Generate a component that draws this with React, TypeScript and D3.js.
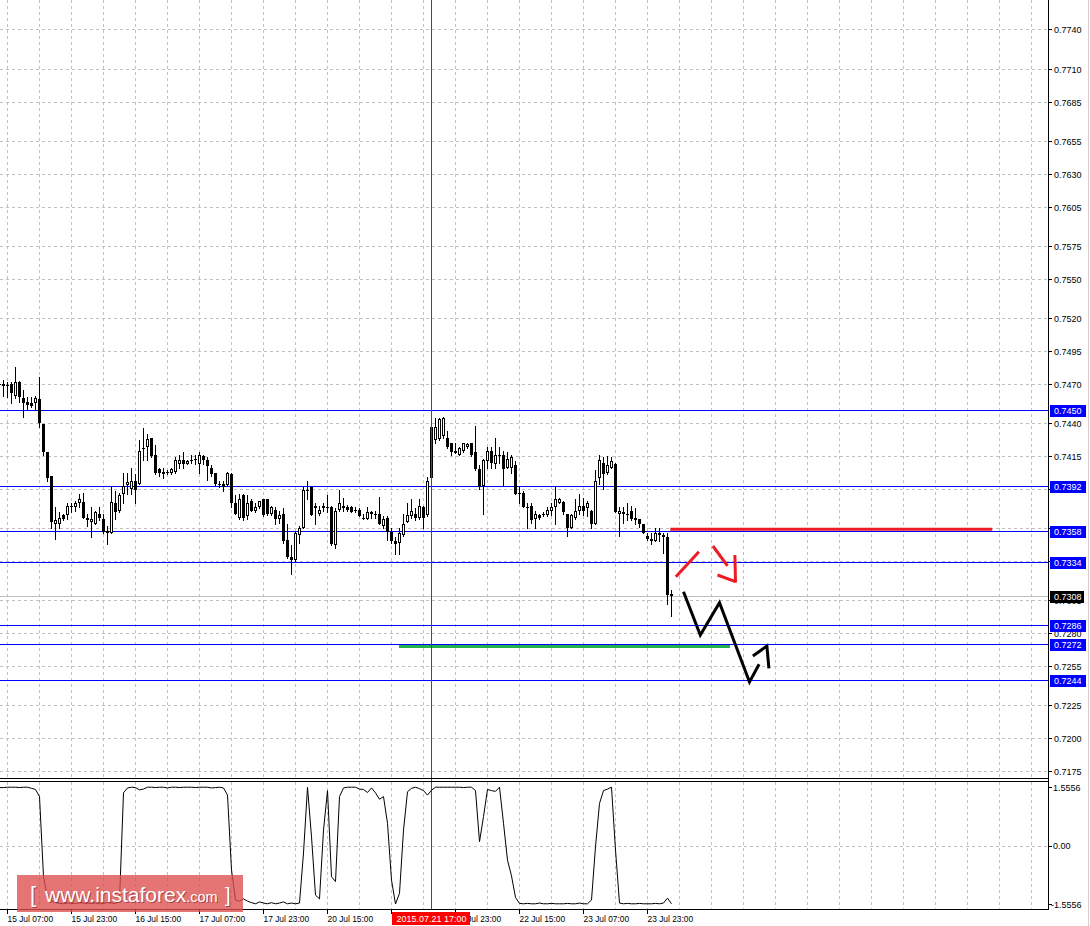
import * as d3 from 'd3';
import React from 'react';

// H1 bars, first one is 15 Jul 05:00 (partly cut off), last one 24 Jul 05:00
const open = [
  0.7469, 0.7468, 0.7468, 0.7470, 0.7461, 0.7471, 0.7459, 0.7456, 0.7455, 0.7455,
  0.7458, 0.7439, 0.7418, 0.7400, 0.7363, 0.7363, 0.7370, 0.7370, 0.7376, 0.7376,
  0.7379, 0.7380, 0.7368, 0.7365, 0.7363, 0.7371, 0.7367, 0.7358, 0.7356, 0.7379,
  0.7373, 0.7386, 0.7393, 0.7390, 0.7396, 0.7394, 0.7420, 0.7422, 0.7429, 0.7416,
  0.7405, 0.7403, 0.7403, 0.7402, 0.7403, 0.7409, 0.7412, 0.7409, 0.7412, 0.7413,
  0.7409, 0.7415, 0.7412, 0.7406, 0.7402, 0.7394, 0.7394, 0.7393, 0.7401, 0.7379,
  0.7368, 0.7385, 0.7369, 0.7381, 0.7373, 0.7376, 0.7382, 0.7382, 0.7371, 0.7374,
  0.7367, 0.7371, 0.7351, 0.7338, 0.7336, 0.7355, 0.7360, 0.7389, 0.7391, 0.7377,
  0.7371, 0.7375, 0.7376, 0.7376, 0.7347, 0.7374, 0.7377, 0.7376, 0.7376, 0.7374,
  0.7374, 0.7368, 0.7367, 0.7371, 0.7371, 0.7371, 0.7362, 0.7368, 0.7357, 0.7350,
  0.7349, 0.7355, 0.7365, 0.7369, 0.7371, 0.7368, 0.7376, 0.7370, 0.7398, 0.7427,
  0.7428, 0.7430, 0.7429, 0.7425, 0.7419, 0.7416, 0.7419, 0.7422, 0.7425, 0.7418,
  0.7405, 0.7392, 0.7411, 0.7419, 0.7409, 0.7416, 0.7416, 0.7406, 0.7406, 0.7408,
  0.7387, 0.7387, 0.7376, 0.7377, 0.7367, 0.7370, 0.7370, 0.7370, 0.7373, 0.7376,
  0.7379, 0.7380, 0.7371, 0.7360, 0.7368, 0.7373, 0.7377, 0.7375, 0.7373, 0.7363,
  0.7398, 0.7410, 0.7402, 0.7406, 0.7409, 0.7371, 0.7372, 0.7371, 0.7373, 0.7366,
  0.7367, 0.7363, 0.7354, 0.7352, 0.7350, 0.7355, 0.7355, 0.7353, 0.7310,
];
const high = [
  0.7473, 0.7473, 0.7471, 0.7471, 0.7483, 0.7472, 0.7465, 0.7460, 0.7460, 0.7461,
  0.7475, 0.7439, 0.7418, 0.7400, 0.7376, 0.7372, 0.7371, 0.7379, 0.7379, 0.7381,
  0.7386, 0.7387, 0.7371, 0.7376, 0.7373, 0.7376, 0.7371, 0.7362, 0.7392, 0.7388,
  0.7387, 0.7402, 0.7402, 0.7406, 0.7401, 0.7427, 0.7436, 0.7432, 0.7429, 0.7423,
  0.7406, 0.7406, 0.7404, 0.7406, 0.7414, 0.7416, 0.7418, 0.7412, 0.7416, 0.7416,
  0.7418, 0.7416, 0.7414, 0.7408, 0.7402, 0.7396, 0.7396, 0.7403, 0.7402, 0.7385,
  0.7386, 0.7386, 0.7385, 0.7382, 0.7379, 0.7381, 0.7382, 0.7382, 0.7377, 0.7376,
  0.7373, 0.7375, 0.7363, 0.7347, 0.7358, 0.7362, 0.7391, 0.7396, 0.7392, 0.7379,
  0.7377, 0.7379, 0.7385, 0.7377, 0.7375, 0.7389, 0.7383, 0.7378, 0.7377, 0.7376,
  0.7375, 0.7371, 0.7376, 0.7373, 0.7373, 0.7384, 0.7369, 0.7369, 0.7360, 0.7353,
  0.7360, 0.7371, 0.7379, 0.7382, 0.7375, 0.7382, 0.7377, 0.7399, 0.7437, 0.7444,
  0.7444, 0.7445, 0.7434, 0.7425, 0.7425, 0.7422, 0.7425, 0.7425, 0.7425, 0.7438,
  0.7408, 0.7413, 0.7422, 0.7422, 0.7429, 0.7422, 0.7419, 0.7418, 0.7416, 0.7411,
  0.7391, 0.7388, 0.7379, 0.7379, 0.7373, 0.7371, 0.7372, 0.7376, 0.7379, 0.7392,
  0.7383, 0.7381, 0.7371, 0.7371, 0.7382, 0.7386, 0.7383, 0.7381, 0.7374, 0.7404,
  0.7416, 0.7414, 0.7415, 0.7414, 0.7410, 0.7376, 0.7376, 0.7379, 0.7377, 0.7375,
  0.7367, 0.7363, 0.7356, 0.7356, 0.7360, 0.7360, 0.7356, 0.7356, 0.7313,
];
const low = [
  0.7465, 0.7461, 0.7460, 0.7455, 0.7459, 0.7456, 0.7445, 0.7450, 0.7452, 0.7450,
  0.7437, 0.7416, 0.7396, 0.7360, 0.7352, 0.7360, 0.7366, 0.7367, 0.7372, 0.7373,
  0.7376, 0.7368, 0.7362, 0.7353, 0.7363, 0.7366, 0.7356, 0.7348, 0.7356, 0.7367,
  0.7372, 0.7379, 0.7386, 0.7386, 0.7379, 0.7394, 0.7412, 0.7412, 0.7414, 0.7401,
  0.7400, 0.7398, 0.7401, 0.7401, 0.7402, 0.7406, 0.7406, 0.7409, 0.7410, 0.7409,
  0.7402, 0.7409, 0.7397, 0.7400, 0.7393, 0.7391, 0.7388, 0.7392, 0.7376, 0.7371,
  0.7367, 0.7366, 0.7367, 0.7373, 0.7372, 0.7375, 0.7369, 0.7370, 0.7370, 0.7363,
  0.7364, 0.7349, 0.7337, 0.7325, 0.7335, 0.7349, 0.7360, 0.7382, 0.7370, 0.7363,
  0.7370, 0.7373, 0.7372, 0.7347, 0.7345, 0.7373, 0.7373, 0.7373, 0.7372, 0.7372,
  0.7369, 0.7367, 0.7367, 0.7368, 0.7368, 0.7363, 0.7360, 0.7351, 0.7349, 0.7340,
  0.7340, 0.7354, 0.7365, 0.7368, 0.7366, 0.7367, 0.7360, 0.7369, 0.7397, 0.7425,
  0.7427, 0.7429, 0.7421, 0.7416, 0.7417, 0.7416, 0.7418, 0.7421, 0.7415, 0.7404,
  0.7390, 0.7371, 0.7406, 0.7406, 0.7406, 0.7410, 0.7392, 0.7406, 0.7402, 0.7386,
  0.7379, 0.7376, 0.7360, 0.7364, 0.7360, 0.7367, 0.7369, 0.7369, 0.7370, 0.7363,
  0.7379, 0.7371, 0.7354, 0.7360, 0.7367, 0.7371, 0.7370, 0.7369, 0.7360, 0.7363,
  0.7394, 0.7390, 0.7401, 0.7406, 0.7372, 0.7354, 0.7364, 0.7366, 0.7366, 0.7363,
  0.7361, 0.7356, 0.7351, 0.7348, 0.7350, 0.7350, 0.7341, 0.7302, 0.7293,
];
const close = [
  0.7470, 0.7470, 0.7469, 0.7463, 0.7471, 0.7460, 0.7455, 0.7454, 0.7453, 0.7459,
  0.7440, 0.7418, 0.7398, 0.7365, 0.7366, 0.7368, 0.7367, 0.7377, 0.7377, 0.7379,
  0.7382, 0.7368, 0.7366, 0.7367, 0.7372, 0.7368, 0.7357, 0.7356, 0.7380, 0.7372,
  0.7385, 0.7392, 0.7395, 0.7396, 0.7389, 0.7419, 0.7421, 0.7428, 0.7415, 0.7402,
  0.7402, 0.7401, 0.7402, 0.7405, 0.7412, 0.7412, 0.7409, 0.7411, 0.7412, 0.7412,
  0.7416, 0.7412, 0.7407, 0.7401, 0.7394, 0.7393, 0.7391, 0.7402, 0.7379, 0.7371,
  0.7382, 0.7368, 0.7379, 0.7373, 0.7376, 0.7381, 0.7370, 0.7371, 0.7376, 0.7367,
  0.7370, 0.7350, 0.7338, 0.7336, 0.7356, 0.7360, 0.7389, 0.7388, 0.7370, 0.7375,
  0.7374, 0.7377, 0.7375, 0.7348, 0.7373, 0.7379, 0.7375, 0.7374, 0.7372, 0.7373,
  0.7369, 0.7367, 0.7372, 0.7372, 0.7370, 0.7363, 0.7367, 0.7357, 0.7350, 0.7348,
  0.7356, 0.7363, 0.7370, 0.7373, 0.7368, 0.7377, 0.7368, 0.7396, 0.7437, 0.7437,
  0.7443, 0.7444, 0.7422, 0.7418, 0.7417, 0.7421, 0.7425, 0.7424, 0.7416, 0.7405,
  0.7391, 0.7412, 0.7419, 0.7410, 0.7416, 0.7415, 0.7405, 0.7413, 0.7414, 0.7386,
  0.7386, 0.7376, 0.7375, 0.7366, 0.7371, 0.7368, 0.7371, 0.7374, 0.7376, 0.7382,
  0.7382, 0.7372, 0.7360, 0.7370, 0.7373, 0.7377, 0.7373, 0.7379, 0.7363, 0.7396,
  0.7412, 0.7401, 0.7408, 0.7411, 0.7372, 0.7373, 0.7371, 0.7370, 0.7367, 0.7368,
  0.7363, 0.7356, 0.7352, 0.7350, 0.7356, 0.7356, 0.7353, 0.7309, 0.7308,
];

// oscillator in the lower window, one value per bar
const osc = [
  1.54, 1.54, 1.55, 1.55, 1.55, 1.54, 1.55, 1.55, 1.52, 1.49,
  1.30, -0.83, -1.40, -1.47, -1.52, -1.54, -1.55, -1.53, -1.54, -1.55,
  -1.52, -1.53, -1.55, -1.54, -1.53, -1.55, -1.54, -1.52, -1.53, -1.55,
  -1.45, 1.40, 1.53, 1.55, 1.54, 1.48, 1.50, 1.55, 1.55, 1.54,
  1.55, 1.55, 1.53, 1.55, 1.55, 1.54, 1.55, 1.55, 1.55, 1.54,
  1.55, 1.55, 1.55, 1.53, 1.54, 1.55, 1.53, 1.34, -0.65, -1.45,
  -1.48, -1.42, -1.48, -1.52, -1.55, -1.50, -1.53, -1.55, -1.52, -1.55,
  -1.53, -1.50, -1.55, -1.53, -1.55, -1.53, -0.20, 1.55, 0.23, -1.32,
  -1.42, 0.41, 1.46, -0.83, -0.96, 1.30, 1.53, 1.55, 1.55, 1.55,
  1.50, 1.49, 1.41, 1.53, 1.40, 1.23, 1.30, 0.59, -0.92, -1.5556,
  -1.27, 0.41, 1.43, 1.52, 1.55, 1.51, 1.46, 1.34, 1.47, 1.55,
  1.55, 1.55, 1.55, 1.55, 1.55, 1.55, 1.54, 1.55, 1.55, 1.46,
  0.10, 0.77, 1.49, 1.46, 1.44, 1.55, 0.59, -0.39, -0.81, -1.38,
  -1.54, -1.55, -1.54, -1.55, -1.55, -1.53, -1.55, -1.55, -1.54, -1.55,
  -1.55, -1.55, -1.54, -1.55, -1.55, -1.53, -1.55, -1.55, -1.45, -0.03,
  1.12, 1.46, 1.50, 1.55, -0.12, -1.53, -1.55, -1.54, -1.55, -1.55,
  -1.54, -1.55, -1.55, -1.55, -1.54, -1.55, -1.53, -1.40, -1.55,
];

const priceTicks = [
  0.774, 0.771, 0.7685, 0.7655, 0.763, 0.7605, 0.7575, 0.755, 0.752, 0.7495, 0.747,
  0.744, 0.7415, 0.739, 0.736, 0.7335, 0.7305, 0.728, 0.7255, 0.7225, 0.72, 0.7175,
];
const levels = [0.745, 0.7392, 0.7358, 0.7334, 0.7286, 0.7272, 0.7244];
const bid = 0.7308;
const oscTicks = [1.5556, 0, -1.5556];
const oscTickLabels = ['1.5556', '0.00', '-1.5556'];
const timeLabels = [
  '15 Jul 07:00', '15 Jul 23:00', '16 Jul 15:00', '17 Jul 07:00', '17 Jul 23:00', '20 Jul 15:00',
  '21 Jul 07:00', '21 Jul 23:00', '22 Jul 15:00', '23 Jul 07:00', '23 Jul 23:00',
];
const cursorBar = 108;
const cursorLabel = '2015.07.21 17:00';

// hand drawn objects: [bar, price]
const redLevel: [number, number][] = [[167.7, 0.73592], [248.2, 0.73592]];
const greenLevel: [number, number][] = [[99.9, 0.727], [182.7, 0.727]];
const redArrow: [number, number][][] = [
  [[169.1, 0.7323], [174.85, 0.73421]],
  [[178.35, 0.73464], [182, 0.73312]],
  [[183.85, 0.73395], [184, 0.73185]],
  [[179.5, 0.73243], [184, 0.73192]],
];
const zigzag: [number, number][] = [
  [171, 0.73116], [175.2, 0.72786], [180, 0.73032], [187.5, 0.72428], [189.9, 0.72563],
];
const zigzagHead: [number, number][] = [[188.35, 0.72626], [191.85, 0.72702], [192.35, 0.72532]];

const FONT = '"Liberation Sans", Arial, sans-serif';
const AXIS_X = 1048.5;
const MAIN_BOTTOM = 778.5;
const IND_TOP = 781.5;
const IND_BOTTOM = 909.5;

export default function App() {
  const x = d3.scaleLinear().domain([0, 1]).range([-0.5, 3.5]);
  const y = d3.scaleLinear().domain([0.7175, 0.774]).range([771, 29.3]);
  const yo = d3.scaleLinear().domain([-1.5556, 1.5556]).range([904, 787]);
  const py = (v: number) => Math.round(y(v)) + 0.5;

  const vGrid = d3.range(2, 259, 8);
  const line = d3.line<[number, number]>().x(d => x(d[0])).y(d => y(d[1]));
  const oscLine = d3
    .line<number>()
    .x((_, i) => x(i))
    .y(d => yo(d));

  const candles = open.map((o, i) => {
    const c = close[i];
    const cx = x(i);
    const top = Math.round(y(Math.max(o, c)));
    const bot = Math.round(y(Math.min(o, c)));
    const bull = c >= o;
    return (
      <g key={i}>
        <line x1={cx} x2={cx} y1={Math.round(y(high[i]))} y2={Math.round(y(low[i])) + 1} stroke="#000" />
        {bull && bot - top >= 2 ? (
          <rect x={cx - 1} y={top + 0.5} width={2} height={bot - top - 1} fill="#fff" stroke="#000" />
        ) : (
          <rect x={cx - 1.5} y={top} width={3} height={Math.max(bot - top, 1)} fill="#000" />
        )}
      </g>
    );
  });

  return (
    <svg
      width={1090}
      height={926}
      style={{ position: 'absolute', left: 0, top: 0, background: '#fff' }}
      fontFamily={FONT}
      shapeRendering="crispEdges"
    >
      <rect x={0} y={0} width={1090} height={926} fill="#fff" />

      {/* grid */}
      <g stroke="#c0c0c0" strokeDasharray="3,3">
        {priceTicks.map(t => (
          <line key={t} x1={0} x2={AXIS_X} y1={py(t)} y2={py(t)} />
        ))}
        <line x1={0} x2={AXIS_X} y1={Math.round(yo(0)) + 0.5} y2={Math.round(yo(0)) + 0.5} />
        {vGrid.map(b => (
          <g key={b}>
            <line x1={x(b)} x2={x(b)} y1={0} y2={MAIN_BOTTOM} />
            <line x1={x(b)} x2={x(b)} y1={IND_TOP} y2={IND_BOTTOM} />
          </g>
        ))}
      </g>

      {/* horizontal levels */}
      <line x1={0} x2={AXIS_X} y1={py(bid)} y2={py(bid)} stroke="#c0c0c0" />
      {levels.map(v => (
        <line key={v} x1={0} x2={AXIS_X} y1={py(v)} y2={py(v)} stroke="#0000ff" />
      ))}
      <path d={line(greenLevel) ?? ''} stroke="#22b14c" strokeWidth={3} fill="none" />

      {candles}

      {/* cursor line */}
      <line x1={x(cursorBar)} x2={x(cursorBar)} y1={0} y2={IND_BOTTOM} stroke="#ff0000" />

      {/* drawn objects */}
      <g shapeRendering="auto" fill="none" strokeWidth={3}>
        <path d={line(redLevel) ?? ''} stroke="#ed1c24" />
        {redArrow.map((s, i) => (
          <path key={i} d={line(s) ?? ''} stroke="#ed1c24" />
        ))}
        <path d={line(zigzag) ?? ''} stroke="#000" strokeLinejoin="miter" />
        <path d={line(zigzagHead) ?? ''} stroke="#000" />
      </g>

      {/* oscillator */}
      <path d={oscLine(osc) ?? ''} stroke="#000" fill="none" shapeRendering="auto" />

      {/* frames */}
      <g stroke="#000">
        <line x1={0} x2={AXIS_X} y1={MAIN_BOTTOM} y2={MAIN_BOTTOM} />
        <line x1={0} x2={AXIS_X} y1={IND_TOP} y2={IND_TOP} />
        <line x1={0} x2={AXIS_X} y1={IND_BOTTOM} y2={IND_BOTTOM} />
        <line x1={AXIS_X} x2={AXIS_X} y1={0} y2={IND_BOTTOM} />
      </g>
      <line x1={1088.5} x2={1088.5} y1={0} y2={926} stroke="#d0d0d0" />

      {/* price axis */}
      <g fontSize={9} fill="#000">
        {priceTicks.map(t => (
          <g key={t}>
            <line x1={AXIS_X} x2={1052} y1={py(t)} y2={py(t)} stroke="#000" />
            <text x={1054} y={py(t) + 3}>{t.toFixed(4)}</text>
          </g>
        ))}
        {oscTicks.map((t, i) => (
          <g key={t}>
            <line x1={AXIS_X} x2={1052} y1={Math.round(yo(t)) + 0.5} y2={Math.round(yo(t)) + 0.5} stroke="#000" />
            <text x={t < 0 ? 1051 : 1053} y={yo(t) + 3.5}>{oscTickLabels[i]}</text>
          </g>
        ))}
        {levels.map(v => (
          <g key={v}>
            <rect x={1050} y={py(v) - 6} width={36} height={12} fill="#0000ff" />
            <text x={1054} y={py(v) + 3.5} fill="#fff">{v.toFixed(4)}</text>
          </g>
        ))}
        <rect x={1050} y={py(bid) - 6} width={34} height={12} fill="#000" />
        <text x={1054} y={py(bid) + 3.5} fill="#fff">{bid.toFixed(4)}</text>
      </g>

      {/* time axis */}
      <g fontSize={8.4} fill="#000">
        {timeLabels.map((t, i) => {
          const bx = x(2 + i * 16);
          return (
            <g key={t}>
              <line x1={bx} x2={bx} y1={IND_BOTTOM} y2={914} stroke="#000" />
              <text x={bx} y={922}>{t}</text>
            </g>
          );
        })}
      </g>
      <rect x={x(cursorBar) - 39.5} y={912} width={78} height={13} fill="#ff0000" />
      <text x={x(cursorBar)} y={922} fontSize={9} fill="#fff" textAnchor="middle">
        {cursorLabel}
      </text>

      {/* watermark */}
      <g shapeRendering="auto">
        <rect x={17} y={875} width={226} height={37} fill="rgb(222,78,78)" opacity={0.78} />
        <text y={902} fill="rgba(90,0,0,0.45)" transform="translate(1,1)">
          <tspan x={30} fontSize={22}>[</tspan>
          <tspan x={45} fontSize={21}>www.instaforex</tspan>
          <tspan fontSize={14.5}>.com</tspan>
          <tspan x={225} fontSize={20}>]</tspan>
        </text>
        <text y={902} fill="#fff">
          <tspan x={30} fontSize={22}>[</tspan>
          <tspan x={45} fontSize={21}>www.instaforex</tspan>
          <tspan fontSize={14.5}>.com</tspan>
          <tspan x={225} fontSize={20}>]</tspan>
        </text>
      </g>
    </svg>
  );
}
